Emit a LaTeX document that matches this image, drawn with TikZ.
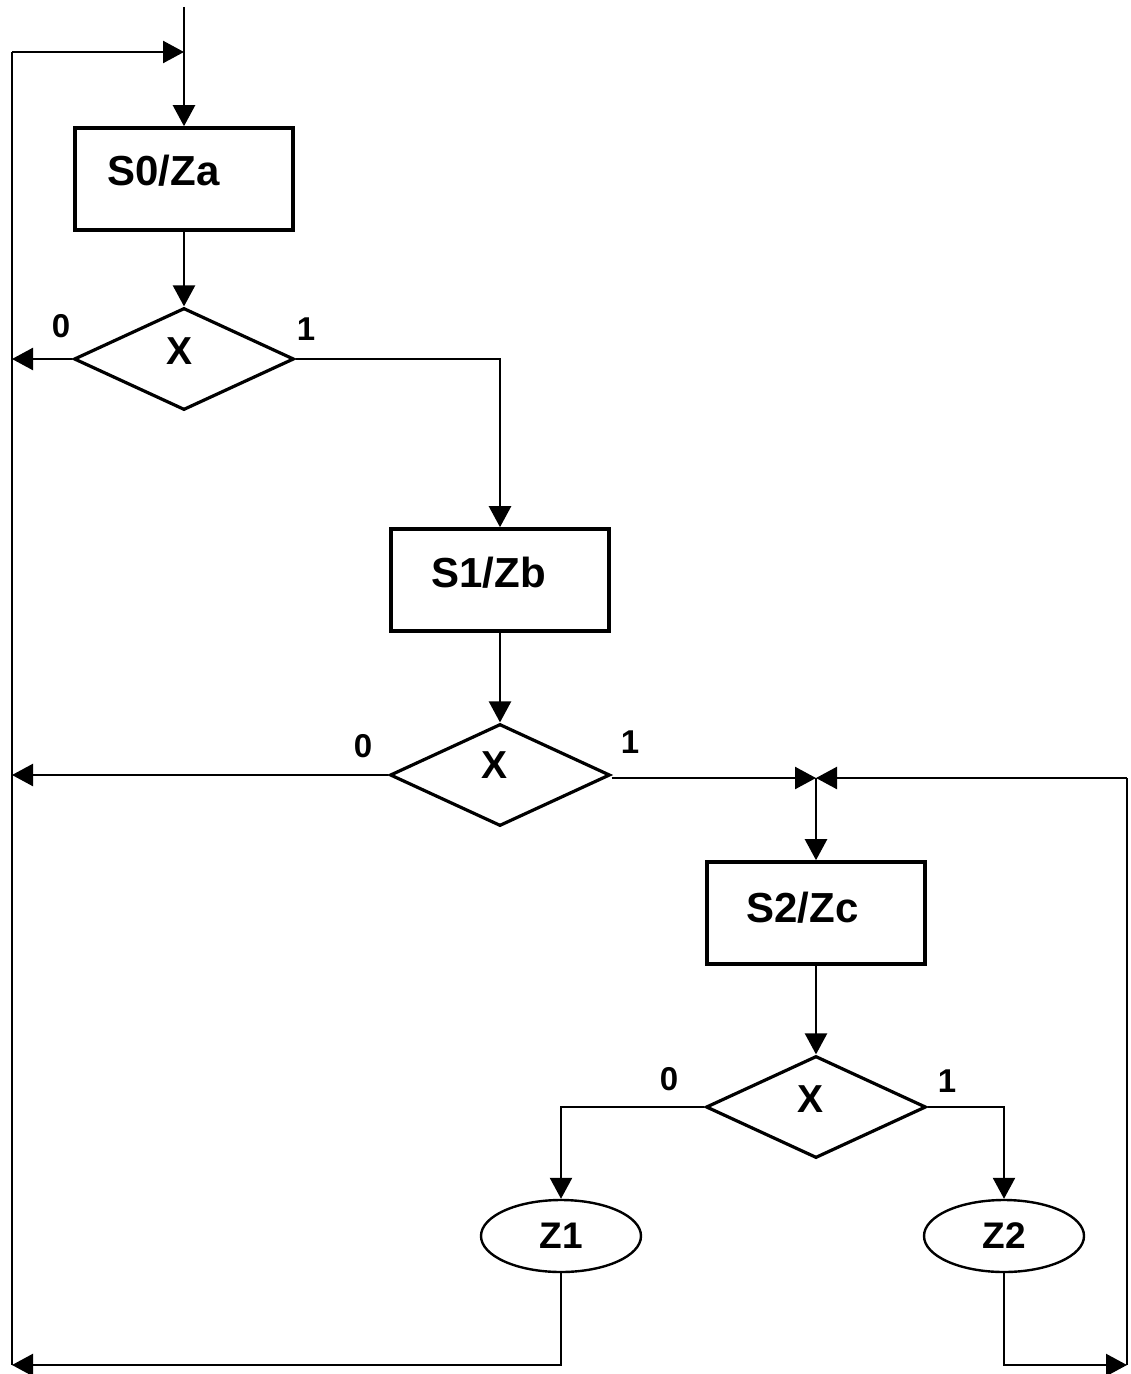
\documentclass[tikz,border=0pt]{standalone}
\usepackage{fontspec}
\setmainfont{Liberation Sans}
\usetikzlibrary{arrows.meta,shapes.geometric,calc}

\begin{document}
\begin{tikzpicture}[
 x=0.5pt,y=-0.5pt,
 stbox/.style={draw,line width=1.8pt,minimum width=109pt,minimum height=51pt,inner sep=0pt},
 dec/.style={draw,diamond,line width=1.6pt,minimum width=110pt,minimum height=51pt,inner sep=0pt},
 outp/.style={draw,ellipse,line width=1.2pt,minimum width=80pt,minimum height=36pt,inner sep=0pt,font=\bfseries\fontsize{18.5}{22}\selectfont},
 stxt/.style={anchor=base west,inner sep=0pt,font=\bfseries\fontsize{21}{25}\selectfont},
 xtxt/.style={inner sep=0pt,font=\bfseries\fontsize{19.5}{23}\selectfont},
 bit/.style={inner sep=0pt,font=\bfseries\fontsize{16.5}{20}\selectfont},
 a/.style={-{Triangle[length=10.5pt,width=11pt]},line width=1.2pt},
 l/.style={line width=1.2pt}
]
\useasboundingbox (0,0) rectangle (1130,1374);
% states and tests
\node[stbox] (s0) at (184,179) {};
\node[stbox] (s1) at (500,580) {};
\node[stbox] (s2) at (816,913) {};
\node[dec] (d1) at (184,359) {};
\node[dec] (d2) at (500,775) {};
\node[dec] (d3) at (816,1107) {};
\node[outp] (z1) at (561,1236) {Z1};
\node[outp] (z2) at (1004,1236) {Z2};
\node[stxt] (t0) at ([shift={(34,-46)}]s0.south west) {S0/Za};
\node[stxt] (t1) at ([shift={(42,-45)}]s1.south west) {S1/Zb};
\node[stxt] (t2) at ([shift={(41,-43)}]s2.south west) {S2/Zc};
\node[xtxt] (x1) at ([shift={(-4,-8)}]d1.center) {X};
\node[xtxt] (x2) at ([shift={(-6,-10)}]d2.center) {X};
\node[xtxt] (x3) at ([shift={(-6,-8)}]d3.center) {X};
\node[bit] (b10) at (61,326) {0};
\node[bit] (b11) at (306,329) {1};
\node[bit] (b20) at (363,746) {0};
\node[bit] (b21) at (630,742) {1};
\node[bit] (b30) at (669,1079) {0};
\node[bit] (b31) at (947,1081) {1};
% loop corners
\coordinate (in) at (184,7);
\coordinate (tl) at (12,52);
\coordinate (j0) at (184,52);
\coordinate (bl) at (12,1365);
\coordinate (tr) at (1127,778);
\coordinate (br) at (1127,1365);
\coordinate (j2) at (816,778);
% connectors
\draw[a] (in)--(s0.north);\draw[a] (tl)--(j0);\draw[l] (tl)--(bl);
\draw[a] (s0)--(d1);\draw[a] (d1.west)--(d1.west-|tl);\draw[a] (d1.east)-|(s1.north);
\draw[a] (s1)--(d2);\draw[a] (d2.west)--(d2.west-|tl);\draw[a] (d2.east|-j2)--(j2);
\draw[a] (tr)--(j2);\draw[a] (j2)--(s2.north);\draw[l] (tr)--(br);
\draw[a] (s2)--(d3);\draw[a] (d3.west)-|(z1.north);\draw[a] (d3.east)-|(z2.north);
\draw[a] (z1.south)|-(bl);\draw[a] (z2.south)|-(br);
\end{tikzpicture}
\end{document}
